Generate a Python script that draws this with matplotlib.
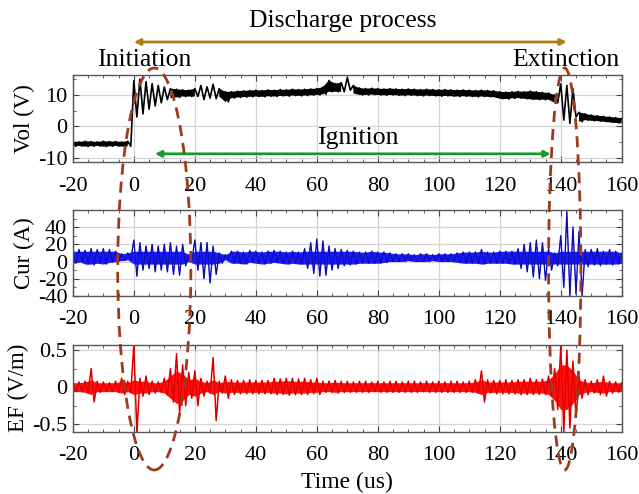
import numpy as np
import matplotlib
matplotlib.use("Agg")
import matplotlib.pyplot as plt
from matplotlib.patches import Ellipse
from matplotlib.transforms import blended_transform_factory
from matplotlib.ticker import MultipleLocator

plt.rcParams['font.family'] = ['Liberation Serif', 'DejaVu Serif']
plt.rcParams['axes.unicode_minus'] = False

# ---- data (envelope values, every 2 us) ----
t_env = list(range(-20, 161, 2))

vol_hi = [-4.8, -4.9, -4.7, -4.8, -4.9, -4.7, -4.8, -4.8, -4.9, -4.7,
          14.5, 15.0, 14.2, 13.6, 13.0, 12.5, 12.0, 11.8, 11.6, 11.5,
          12.0, 13.0, 12.6, 13.4, 12.0, 11.0, 11.0, 11.2, 11.3, 11.4,
          11.5, 11.4, 11.6, 11.5, 11.7, 11.6, 11.8, 11.7, 11.8, 11.9,
          12.0, 12.5, 14.6, 13.6, 13.9, 15.5, 13.0, 12.2, 12.0, 12.1,
          12.0, 11.9, 12.0, 11.9, 11.8, 11.9, 11.8, 11.7, 11.8, 11.7,
          11.6, 11.7, 11.6, 11.5, 11.6, 11.5, 11.4, 11.5, 11.4, 11.3,
          11.0, 10.9, 11.0, 11.1, 11.0, 11.2, 11.0, 10.8, 10.6, 10.0,
          13.5, 13.0, 12.0, 4.5, 4.0, 3.6, 3.4, 3.2, 3.0, 2.8, 2.6]
vol_lo = [-6.3, -6.2, -6.4, -6.3, -6.2, -6.4, -6.3, -6.2, -6.4, -6.3,
          3.0, 4.0, 5.5, 6.5, 7.5, 8.5, 9.0, 9.2, 9.5, 9.5,
          9.5, 8.5, 9.0, 8.8, 9.5, 7.8, 9.0, 9.2, 9.3, 9.4,
          9.5, 9.4, 9.6, 9.5, 9.7, 9.6, 9.8, 9.7, 9.8, 9.9,
          10.0, 10.2, 11.0, 11.0, 11.0, 11.5, 10.5, 10.0, 10.0, 10.1,
          10.0, 9.9, 10.0, 9.9, 9.8, 9.9, 9.8, 9.7, 9.8, 9.7,
          9.6, 9.7, 9.6, 9.5, 9.6, 9.5, 9.4, 9.5, 9.4, 9.3,
          8.8, 8.7, 8.9, 9.0, 8.8, 8.6, 8.5, 8.5, 8.5, 7.5,
          2.0, 1.0, 3.0, 1.5, 2.0, 1.8, 1.7, 1.5, 1.3, 1.1, 1.0]

cur_hi = [12, 14, 13, 15, 14, 15, 14, 12, 9, 10,
          25, 22, 18, 20, 18, 20, 22, 18, 20, 8,
          25, 22, 22, 18, 10, 8, 12, 12, 11, 13,
          12, 11, 12, 13, 12, 11, 12, 11, 15, 22,
          26, 24, 18, 15, 14, 13, 12, 11, 11, 12,
          11, 11, 10, 9, 9, 9, 8, 9, 9, 8,
          9, 9, 9, 10, 11, 11, 11, 14, 11, 11,
          12, 12, 12, 15, 20, 22, 25, 22, 15, 10,
          30, 58, 40, 35, 14, 14, 15, 12, 14, 12, 10]
cur_lo = [-2, 0, -3, -4, -2, -3, -1, 0, 1, 2,
          -17, -10, -8, -12, -10, -12, -15, -16, -5, 0,
          -10, -20, -25, -15, -2, 2, -2, -2, -3, -1,
          -2, -3, -2, -1, -2, -3, -2, -3, -8, -14,
          -17, -16, -10, -8, -5, -4, -3, -2, -2, -2,
          -2, -1, 0, 0, 0, 1, 0, 0, 0, 1,
          0, 0, 0, -1, -2, -2, -2, -3, -2, -2,
          -2, -2, -3, -8, -12, -18, -20, -22, -10, -5,
          -30, -40, -38, -40, -6, -4, -5, -3, -4, -3, -2]

ef_hi = [0.06, 0.07, 0.08, 0.25, 0.08, 0.07, 0.06, 0.08, 0.12, 0.08,
         0.57, 0.12, 0.15, 0.08, 0.07, 0.12, 0.25, 0.45, 0.30, 0.20,
         0.22, 0.12, 0.08, 0.40, 0.08, 0.15, 0.10, 0.09, 0.09, 0.10,
         0.09, 0.09, 0.09, 0.12, 0.11, 0.12, 0.12, 0.11, 0.12, 0.10,
         0.12, 0.08, 0.08, 0.09, 0.08, 0.08, 0.07, 0.08, 0.08, 0.07,
         0.08, 0.07, 0.08, 0.08, 0.07, 0.08, 0.08, 0.07, 0.08, 0.07,
         0.08, 0.07, 0.08, 0.08, 0.07, 0.08, 0.10, 0.22, 0.10, 0.09,
         0.09, 0.10, 0.09, 0.10, 0.10, 0.12, 0.10, 0.11, 0.15, 0.25,
         0.55, 0.50, 0.35, 0.15, 0.10, 0.08, 0.10, 0.15, 0.08, 0.07, 0.06]
ef_lo = [-0.06, -0.06, -0.08, -0.20, -0.07, -0.06, -0.06, -0.07, -0.10, -0.07,
         -0.62, -0.12, -0.10, -0.08, -0.07, -0.10, -0.20, -0.35, -0.25, -0.15,
         -0.25, -0.12, -0.08, -0.45, -0.08, -0.15, -0.10, -0.09, -0.09, -0.09,
         -0.09, -0.09, -0.09, -0.10, -0.10, -0.11, -0.10, -0.10, -0.10, -0.09,
         -0.10, -0.07, -0.07, -0.08, -0.07, -0.07, -0.07, -0.07, -0.07, -0.06,
         -0.07, -0.07, -0.07, -0.07, -0.07, -0.07, -0.07, -0.06, -0.07, -0.07,
         -0.07, -0.07, -0.07, -0.07, -0.07, -0.07, -0.08, -0.20, -0.08, -0.09,
         -0.09, -0.09, -0.09, -0.10, -0.10, -0.10, -0.10, -0.10, -0.12, -0.30,
         -0.60, -0.55, -0.40, -0.15, -0.10, -0.08, -0.10, -0.12, -0.08, -0.07, -0.06]
# half-width of the solid (dense) part of the EF band
ef_core = [0.06, 0.06, 0.07, 0.10, 0.06, 0.06, 0.06, 0.06, 0.08, 0.06,
           0.10, 0.08, 0.08, 0.06, 0.06, 0.08, 0.15, 0.22, 0.18, 0.10,
           0.12, 0.08, 0.06, 0.10, 0.06, 0.08, 0.07, 0.07, 0.07, 0.07,
           0.07, 0.07, 0.07, 0.08, 0.08, 0.09, 0.08, 0.08, 0.08, 0.07,
           0.07, 0.06, 0.06, 0.07, 0.06, 0.06, 0.06, 0.06, 0.06, 0.06,
           0.06, 0.06, 0.06, 0.06, 0.06, 0.06, 0.06, 0.06, 0.06, 0.06,
           0.06, 0.06, 0.06, 0.06, 0.06, 0.06, 0.07, 0.10, 0.07, 0.07,
           0.07, 0.07, 0.07, 0.08, 0.08, 0.08, 0.08, 0.08, 0.10, 0.18,
           0.30, 0.30, 0.22, 0.10, 0.07, 0.06, 0.07, 0.08, 0.06, 0.06, 0.06]

x_ticks = [-20, 0, 20, 40, 60, 80, 100, 120, 140, 160]
vol_ticks = [-10, 0, 10]
cur_ticks = [-40, -20, 0, 20, 40]
ef_ticks = [-0.5, 0, 0.5]

# ---- figure ----
fig = plt.figure(figsize=(6.39, 4.94), dpi=100)
L, W = 0.114, 0.859
ax1 = fig.add_axes([L, 0.672, W, 0.176])
ax2 = fig.add_axes([L, 0.401, W, 0.174])
ax3 = fig.add_axes([L, 0.126, W, 0.176])

t_arr = np.array(t_env)


def zigzag(t, hi, lo):
    xs, ys = [], []
    for ti, h, l in zip(t, hi, lo):
        xs += [ti, ti + 1]
        ys += [h, l]
    return xs, ys


def style(ax, yt, ylim, ylabel, yminor):
    ax.set_xlim(-20, 160)
    ax.set_ylim(*ylim)
    ax.set_xticks(x_ticks)
    ax.set_yticks(yt)
    ax.xaxis.set_minor_locator(MultipleLocator(5))
    ax.yaxis.set_minor_locator(MultipleLocator(yminor))
    ax.tick_params(which='both', direction='in', top=True, right=True,
                   labelsize=16, color='#444444')
    ax.tick_params(axis='x', which='major', pad=10.5)
    ax.tick_params(axis='y', which='major', pad=4)
    ax.tick_params(which='major', length=4)
    ax.tick_params(which='minor', length=2)
    ax.grid(True, color='#d4d4d4', lw=0.9)
    ax.set_axisbelow(True)
    for s in ax.spines.values():
        s.set_color('#555555')
        s.set_linewidth(1.0)
    ax.set_ylabel(ylabel, fontsize=16.5, labelpad=2)


# voltage
vh, vl = np.array(vol_hi), np.array(vol_lo)
ax1.fill_between(t_arr, vl, vh, where=(vh - vl) < 4, color='black', lw=0)
xs, ys = zigzag(t_env, vol_hi, vol_lo)
ax1.plot(xs, ys, color='black', lw=1.2)
style(ax1, vol_ticks, (-11.3, 16.3), 'Vol (V)', 5)
ax1.set_yticklabels(['-10', '0', '10'])

# current
ch, cl = np.array(cur_hi), np.array(cur_lo)
ax2.fill_between(t_arr, np.maximum(cl, -3), np.minimum(ch, 12),
                 color='#1a1aff', lw=0)
xs, ys = zigzag(t_env, cur_hi, cur_lo)
ax2.plot(xs, ys, color='#1010ee', lw=1.0)
ax2.plot(xs, ys, color='#101040', lw=0.4, alpha=0.7)
style(ax2, cur_ticks, (-40, 60), 'Cur (A)', 10)

# electric field
ec = np.array(ef_core)
ax3.fill_between(t_arr, -ec, ec, color='#ff1010', lw=0)
xs, ys = zigzag(t_env, ef_hi, ef_lo)
ax3.plot(xs, ys, color='#ff0000', lw=1.1)
ax3.plot(xs, ys, color='#700000', lw=0.3, alpha=0.6)
style(ax3, ef_ticks, (-0.6, 0.57), 'EF (V/m)', 0.25)
ax3.set_yticklabels(['-0.5', '0', '0.5'])
ax3.set_xlabel('Time (us)', fontsize=17, labelpad=5)

for ax in (ax1, ax2, ax3):
    ax.set_xticklabels([str(v) for v in x_ticks])

# ---- annotations ----
btr = blended_transform_factory(ax1.transData, fig.transFigure)
ax1.text(68.6, 0.958, 'Discharge process', transform=btr,
         ha='center', va='center', fontsize=18.5)
ax1.annotate('', xy=(142, 0.915), xytext=(0, 0.915),
             xycoords=('data', 'figure fraction'),
             textcoords=('data', 'figure fraction'),
             arrowprops=dict(arrowstyle='<|-|>', color='#b07d1a', lw=2,
                             mutation_scale=9, shrinkA=0, shrinkB=0))
ax1.text(3.4, 0.878, 'Initiation', transform=btr,
         ha='center', va='center', fontsize=18.5)
ax1.text(141.7, 0.878, 'Extinction', transform=btr,
         ha='center', va='center', fontsize=18.5)
ax1.text(73.5, -3.6, 'Ignition', ha='center', va='center', fontsize=18.5)
ax1.annotate('', xy=(136.7, -8.7), xytext=(6.9, -8.7),
             arrowprops=dict(arrowstyle='<|-|>', color='#159a2a', lw=2,
                             mutation_scale=9, shrinkA=0, shrinkB=0))

yc = 1 - (68 + 470) / 2 / 494
hgt = (470 - 68) / 494
for xc, wd in [(6.7, 24), (141.3, 10.6)]:
    e = Ellipse((xc, yc), wd, hgt, transform=btr, fill=False,
                edgecolor='#a03a1c', lw=2, linestyle=(0, (4, 2.5)),
                clip_on=False, zorder=10)
    fig.add_artist(e)

fig.savefig('out.png', dpi=100)
